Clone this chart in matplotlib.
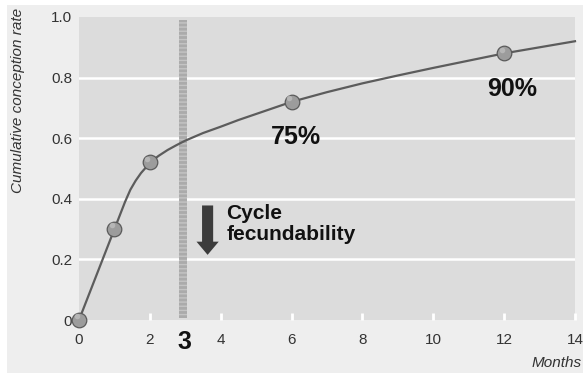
import matplotlib
matplotlib.use("Agg")
import matplotlib.pyplot as plt
import matplotlib.patches as mpatches

# ---------------------- Data ---------------------- #
# curve (months, cumulative rate)
curve_months = [0, 0.25, 0.5, 0.75, 1, 1.15, 1.3, 1.45, 1.6, 1.75, 1.9, 2, 2.25, 2.5, 2.75, 3,
                3.5, 4, 4.5, 5, 5.5, 6, 7, 8, 9, 10, 11, 12, 13, 14]
curve_rate = [0, 0.075, 0.15, 0.225, 0.30, 0.345, 0.39, 0.43, 0.46, 0.485, 0.505, 0.52, 0.542,
              0.561, 0.577, 0.592, 0.617, 0.638, 0.66, 0.68, 0.70, 0.72, 0.752, 0.781, 0.807,
              0.832, 0.856, 0.88, 0.90, 0.92]

# marked points
point_months = [0, 1, 2, 6, 12]
point_rate = [0, 0.30, 0.52, 0.72, 0.88]

x_ticks = [0, 2, 4, 6, 8, 10, 12, 14]
y_ticks = [0, 0.2, 0.4, 0.6, 0.8, 1.0]
y_tick_labels = ["0", "0.2", "0.4", "0.6", "0.8", "1.0"]

band_month = 3
band_range = (2.83, 3.05)

labels = ["75%", "90%"]
label_pos = [(6.11, 0.604), (12.22, 0.764)]

plt.rcParams["font.family"] = ["Liberation Sans Narrow", "Liberation Sans", "DejaVu Sans"]

fig = plt.figure(figsize=(5.83, 3.75), dpi=100)
fig.patch.set_facecolor("white")

# light gray panel behind everything
panel = mpatches.Rectangle((7 / 583, 2 / 375), 576 / 583, 368 / 375,
                           transform=fig.transFigure, facecolor="#eeeeee",
                           edgecolor="none", zorder=-10)
fig.patches.append(panel)

ax = fig.add_axes([79 / 583, 55 / 375, 496 / 583, 303 / 375])
ax.set_facecolor("#dcdcdc")
for s in ax.spines.values():
    s.set_visible(False)

ax.set_xlim(0, 14)
ax.set_ylim(0, 1.0)

# white grid lines
for yv in y_ticks[1:-1]:
    ax.axhline(yv, color="white", lw=1.8, zorder=1)

# shaded month-3 band
ax.axvspan(band_range[0], band_range[1], ymin=0.005, ymax=0.99,
           facecolor="#ababab", edgecolor="#c4c4c4", hatch="----", lw=0, zorder=2)

ax.plot(curve_months, curve_rate, color="#5c5c5c", lw=1.6, zorder=3, clip_on=False,
        solid_joinstyle="round")
ax.plot(point_months, point_rate, "o", ms=10.5, mfc="#9c9c9c", mec="#5a5a5a", mew=0.9,
        zorder=4, clip_on=False)
ax.plot([m - 0.07 for m in point_months], [r + 0.012 for r in point_rate], "o", ms=4,
        mfc="#bdbdbd", mec="none", alpha=0.8, zorder=5, clip_on=False)

# annotations
for txt, (xm, yv) in zip(labels, label_pos):
    ax.text(xm, yv, txt, ha="center", va="center", fontsize=18,
            fontweight="bold", family=["Liberation Sans", "DejaVu Sans"], color="#111111")

ax.text(band_month - 0.03, -0.071, str(band_month), ha="center", va="center", fontsize=18,
        fontweight="bold", family=["Liberation Sans", "DejaVu Sans"], color="#111111",
        clip_on=False)

ax.annotate("", xy=(3.63, 0.215), xytext=(3.63, 0.378),
            arrowprops=dict(arrowstyle="simple,head_width=1.6,head_length=0.95,tail_width=0.8",
                            mutation_scale=10, fc="#3c3c3c", ec="none",
                            shrinkA=0, shrinkB=0))
ax.text(4.16, 0.318, "Cycle\nfecundability", ha="left", va="center", fontsize=15,
        fontweight="bold", family=["Liberation Sans", "DejaVu Sans"], color="#111111",
        linespacing=1.15)

# ticks
ax.set_xticks(x_ticks)
ax.set_yticks(y_ticks)
ax.set_yticklabels(y_tick_labels)
ax.tick_params(axis="x", direction="in", length=5, width=2, color="white", pad=9,
               labelsize=11, labelcolor="#333333")
ax.tick_params(axis="y", length=0, pad=5, labelsize=11, labelcolor="#333333")

fig.text(18 / 583, 1 - 8 / 375, "Cumulative conception rate", rotation=90, ha="center",
         va="top", fontsize=11, style="italic", color="#333333")
fig.text(582 / 583, 1 - 363 / 375, "Months", ha="right", va="center", fontsize=11,
         style="italic", color="#333333")

fig.savefig("out.png", dpi=100)
